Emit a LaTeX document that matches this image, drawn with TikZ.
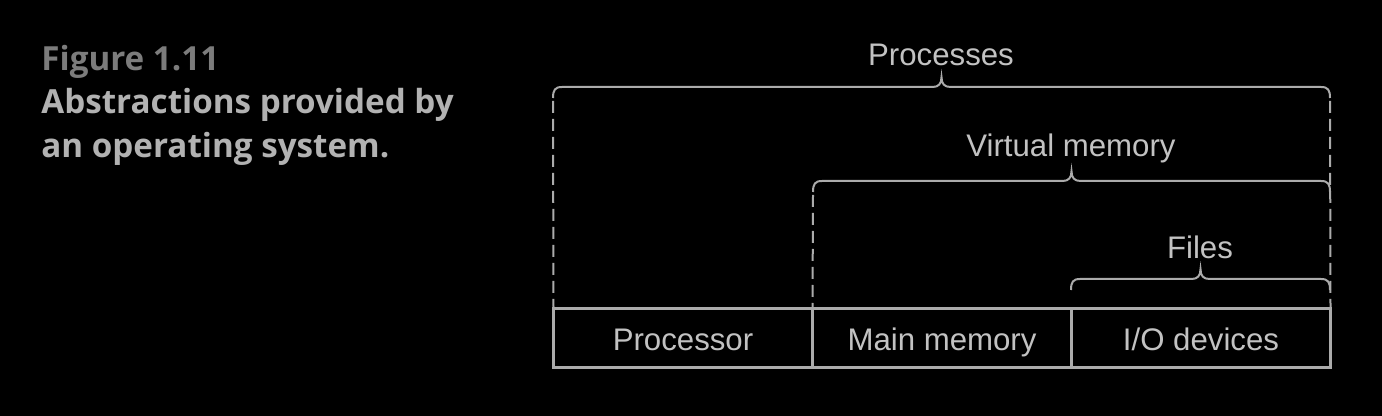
\documentclass[tikz,border=0pt]{standalone}
\usepackage{fontspec}
\setmainfont{Liberation Sans}
\newfontfamily\capfont{Open Sans}
\usetikzlibrary{positioning}
\definecolor{figgray}{HTML}{7C7C7C}
\definecolor{capgray}{HTML}{B2B2B2}
\definecolor{linegray}{HTML}{ABABAB}
\definecolor{textgray}{HTML}{C2C2C2}
\newcommand\topbrace[3]{% left x, right x, height of the bar
  ({#1},{#3+11}) .. controls ({#1},{#3+3}) and ({#1+2},{#3}) .. ({#1+9},{#3})
  -- ({(#1+#2)/2-9},{#3}) .. controls ({(#1+#2)/2-3},{#3}) and ({(#1+#2)/2},{#3-3}) .. ({(#1+#2)/2},{#3-10})
  .. controls ({(#1+#2)/2},{#3-3}) and ({(#1+#2)/2+3},{#3}) .. ({(#1+#2)/2+9},{#3})
  -- ({#2-9},{#3}) .. controls ({#2-2},{#3}) and ({#2},{#3+3}) .. ({#2},{#3+11})
}
\begin{document}
\begin{tikzpicture}[x=0.5pt,y=-0.5pt,
  box/.style={draw=linegray, line width=1.5pt, minimum width=129.5pt, minimum height=29.5pt,
    inner sep=0pt, outer sep=0pt, text height=13pt, text depth=0.5pt,
    text=textgray, font=\fontsize{15.6}{18}\selectfont},
  brace/.style={draw=linegray, line width=1pt},
  dashline/.style={draw=linegray, line width=1pt, dash pattern=on 6pt off 3pt},
  lbl/.style={text=textgray, font=\fontsize{15.6}{18}\selectfont},
  captxt/.style={anchor=base west, inner sep=0pt, text=capgray, font=\capfont\bfseries\fontsize{16.6}{22}\selectfont}]
\fill[black] (0,0) rectangle (1382,416);
% caption
\node[captxt, text=figgray] (fig) at (41,71) {Figure 1.11};
\node[captxt] (capa) at (41,114) {Abstractions provided by};
\node[captxt] (capb) at (41,158) {an operating system.};
% the three resources
\node[box] (proc) at (683,338.5) {Processor};
\node[box, right=0pt of proc] (mem) {Main memory};
\node[box, right=0pt of mem] (io) {I/O devices};
% abstractions
\draw[brace] \topbrace{553}{1330}{87};
\draw[brace] \topbrace{813}{1330}{181};
\draw[brace] \topbrace{1071}{1330}{279};
\node[lbl] (procs) at (941,55) {Processes};
\node[lbl] (vmem) at (1071,148) {Virtual memory};
\node[lbl] (files) at (1200,247) {Files};
\coordinate (pl) at (553,101);
\coordinate (pr) at (1330,101);
\coordinate (vl) at (813,195);
\draw[dashline] (pl) -- (proc.north west);
\draw[dashline] (pr) -- (io.north east);
\draw[dashline] (vl) -- (mem.north west);
\end{tikzpicture}
\end{document}
